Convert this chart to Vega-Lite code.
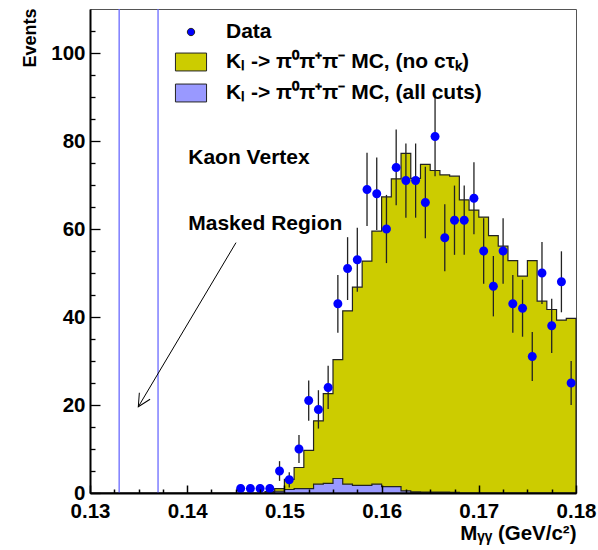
{
  "$schema": "https://vega.github.io/schema/vega-lite/v6.json",
  "width": 486,
  "height": 484,
  "autosize": "none",
  "padding": {"left": 90, "top": 9, "right": 22, "bottom": 57},
  "background": "white",
  "config": {
    "font": "Liberation Sans",
    "view": {"stroke": "#555", "strokeWidth": 1},
    "axis": {
      "labelFont": "Liberation Sans", "labelFontWeight": "bold", "labelFontSize": 20.5, "labelColor": "black",
      "titleFont": "Liberation Sans", "titleFontWeight": "bold", "titleColor": "black",
      "domainColor": "black", "tickColor": "black", "grid": false
    }
  },
  "datasets": {
    "hist": [
      {"lo": 0.130, "yel": 0, "pur": 0}, {"lo": 0.131, "yel": 0, "pur": 0}, {"lo": 0.132, "yel": 0, "pur": 0},
      {"lo": 0.133, "yel": 0, "pur": 0}, {"lo": 0.134, "yel": 0, "pur": 0}, {"lo": 0.135, "yel": 0, "pur": 0},
      {"lo": 0.136, "yel": 0, "pur": 0}, {"lo": 0.137, "yel": 0, "pur": 0}, {"lo": 0.138, "yel": 0, "pur": 0},
      {"lo": 0.139, "yel": 0, "pur": 0}, {"lo": 0.140, "yel": 0, "pur": 0}, {"lo": 0.141, "yel": 0, "pur": 0},
      {"lo": 0.142, "yel": 0, "pur": 0}, {"lo": 0.143, "yel": 0, "pur": 0}, {"lo": 0.144, "yel": 0, "pur": 0},
      {"lo": 0.145, "yel": 0, "pur": 0}, {"lo": 0.146, "yel": 0, "pur": 0}, {"lo": 0.147, "yel": 0, "pur": 0},
      {"lo": 0.148, "yel": 0.3, "pur": 0}, {"lo": 0.149, "yel": 1.0, "pur": 0.4}, {"lo": 0.150, "yel": 3.1, "pur": 0.8},
      {"lo": 0.151, "yel": 5.8, "pur": 1.0}, {"lo": 0.152, "yel": 9.7, "pur": 1.0}, {"lo": 0.153, "yel": 16.4, "pur": 2.0},
      {"lo": 0.154, "yel": 22.6, "pur": 2.2}, {"lo": 0.155, "yel": 30.3, "pur": 3.3}, {"lo": 0.156, "yel": 41.4, "pur": 2.0},
      {"lo": 0.157, "yel": 46.8, "pur": 1.75}, {"lo": 0.158, "yel": 52.7, "pur": 1.75}, {"lo": 0.159, "yel": 59.5, "pur": 2.0},
      {"lo": 0.160, "yel": 67.3, "pur": 1.45}, {"lo": 0.161, "yel": 71.4, "pur": 1.45}, {"lo": 0.162, "yel": 77.2, "pur": 0.5},
      {"lo": 0.163, "yel": 71.5, "pur": 0.25}, {"lo": 0.164, "yel": 74.7, "pur": 0.2}, {"lo": 0.165, "yel": 73.3, "pur": 0.2},
      {"lo": 0.166, "yel": 72.3, "pur": 0.2}, {"lo": 0.167, "yel": 72.0, "pur": 0.15}, {"lo": 0.168, "yel": 66.6, "pur": 0},
      {"lo": 0.169, "yel": 64.3, "pur": 0}, {"lo": 0.170, "yel": 62.7, "pur": 0}, {"lo": 0.171, "yel": 58.5, "pur": 0},
      {"lo": 0.172, "yel": 56.1, "pur": 0}, {"lo": 0.173, "yel": 52.8, "pur": 0}, {"lo": 0.174, "yel": 49.3, "pur": 0},
      {"lo": 0.175, "yel": 52.8, "pur": 0}, {"lo": 0.176, "yel": 43.6, "pur": 0}, {"lo": 0.177, "yel": 41.7, "pur": 0},
      {"lo": 0.178, "yel": 39.3, "pur": 0}, {"lo": 0.179, "yel": 39.7, "pur": 0}, {"lo": 0.180, "yel": 39.7, "pur": 0}
    ],
    "pts": [
      {"x": 0.1455, "n": 1, "lo": 0, "hi": 2}, {"x": 0.1465, "n": 1, "lo": 0, "hi": 2},
      {"x": 0.1475, "n": 1, "lo": 0, "hi": 2}, {"x": 0.1485, "n": 1, "lo": 0, "hi": 2},
      {"x": 0.1495, "n": 5, "lo": 2.76, "hi": 7.24}, {"x": 0.1505, "n": 3, "lo": 1.27, "hi": 4.73},
      {"x": 0.1515, "n": 10, "lo": 6.84, "hi": 13.16}, {"x": 0.1525, "n": 21, "lo": 16.42, "hi": 25.58},
      {"x": 0.1535, "n": 19, "lo": 14.64, "hi": 23.36}, {"x": 0.1545, "n": 24, "lo": 19.1, "hi": 28.9},
      {"x": 0.1555, "n": 43, "lo": 36.44, "hi": 49.56}, {"x": 0.1565, "n": 51, "lo": 43.86, "hi": 58.14},
      {"x": 0.1575, "n": 53, "lo": 45.72, "hi": 60.28}, {"x": 0.1585, "n": 69, "lo": 60.69, "hi": 77.31},
      {"x": 0.1595, "n": 68, "lo": 59.75, "hi": 76.25}, {"x": 0.1605, "n": 60, "lo": 52.25, "hi": 67.75},
      {"x": 0.1615, "n": 74, "lo": 65.4, "hi": 82.6}, {"x": 0.1625, "n": 71, "lo": 62.57, "hi": 79.43},
      {"x": 0.1635, "n": 71, "lo": 62.57, "hi": 79.43}, {"x": 0.1645, "n": 66, "lo": 57.88, "hi": 74.12},
      {"x": 0.1655, "n": 81, "lo": 72, "hi": 90}, {"x": 0.1665, "n": 58, "lo": 50.38, "hi": 65.62},
      {"x": 0.1675, "n": 62, "lo": 54.13, "hi": 69.87}, {"x": 0.1685, "n": 62, "lo": 54.13, "hi": 69.87},
      {"x": 0.1695, "n": 67, "lo": 58.81, "hi": 75.19}, {"x": 0.1705, "n": 55, "lo": 47.58, "hi": 62.42},
      {"x": 0.1715, "n": 47, "lo": 40.14, "hi": 53.86}, {"x": 0.1725, "n": 55, "lo": 47.58, "hi": 62.42},
      {"x": 0.1735, "n": 43, "lo": 36.44, "hi": 49.56}, {"x": 0.1745, "n": 42, "lo": 35.52, "hi": 48.48},
      {"x": 0.1755, "n": 31, "lo": 25.43, "hi": 36.57}, {"x": 0.1765, "n": 50, "lo": 42.93, "hi": 57.07},
      {"x": 0.1775, "n": 38, "lo": 31.84, "hi": 44.16}, {"x": 0.1785, "n": 48, "lo": 41.07, "hi": 54.93},
      {"x": 0.1795, "n": 25, "lo": 20, "hi": 30}
    ],
    "vlines": [{"x": 0.133}, {"x": 0.137}],
    "notes": [
      {"x": 0.14011, "y": 74.8, "label": "Kaon Vertex"},
      {"x": 0.14011, "y": 59.8, "label": "Masked Region"}
    ],
    "arrow": [{"x": 0.14502, "y": 56.9, "x2": 0.13497, "y2": 19.6}]
  },
  "layer": [
    {
      "data": {"name": "hist"},
      "mark": {"type": "area", "interpolate": "step-after", "stroke": "#222", "strokeWidth": 1.2, "opacity": 1},
      "encoding": {
        "x": {"field": "lo", "type": "quantitative",
              "scale": {"domain": [0.13, 0.18], "nice": false, "zero": false},
              "axis": {"orient": "bottom", "values": [0.13, 0.14, 0.15, 0.16, 0.17, 0.18], "format": ".2f",
                       "ticks": false, "labelPadding": 8.5, "domainWidth": 2, "zindex": 1,
                       "labelFlush": false, "labelOverlap": false,
                       "title": "Mᵧᵧ (GeV/c²)", "titleFontSize": 20.5, "titleAnchor": "end", "titleAlign": "right",
                       "titleX": 486, "titleY": 46, "titleBaseline": "alphabetic"}},
        "y": {"field": "yel", "type": "quantitative",
              "scale": {"domain": [0, 110], "nice": false},
              "axis": {"orient": "left", "values": [0, 20, 40, 60, 80, 100], "format": "d",
                       "ticks": false, "labelPadding": 5, "domainWidth": 2, "zindex": 1,
                       "labelFlush": false, "labelOverlap": false,
                       "title": "Events", "titleFontSize": 18, "titleAngle": 270, "titleAlign": "right",
                       "titleX": -60, "titleY": -1, "titleBaseline": "middle"}},
        "color": {"datum": "Kₗ -> π⁰π⁺π⁻ MC, (no cτₖ)", "type": "nominal",
                  "scale": {"domain": ["Data", "Kₗ -> π⁰π⁺π⁻ MC, (no cτₖ)", "Kₗ -> π⁰π⁺π⁻ MC, (all cuts)"],
                            "range": ["#0000ff", "#cccc00", "#9999ff"]},
                  "legend": {"title": null, "orient": "none", "legendX": 88, "legendY": 10, "padding": 0,
                             "symbolSize": 600, "labelFontSize": 21, "labelFont": "Liberation Sans", "labelFontWeight": "bold",
                             "labelColor": "black", "labelLimit": 500, "labelOffset": 22, "rowPadding": 7,
                             "symbolStrokeWidth": 1,
                             "encode": {"symbols": {"update": {"x": {"signal": "datum.value === 'Data' ? 29.5 : 12.75"}, "stroke": {"signal": "datum.value === 'Data' ? '#0000ff' : '#222222'"}, "strokeWidth": {"value": 1}, "opacity": {"value": 1}}}}}}
      }
    },
    {
      "data": {"name": "hist"},
      "mark": {"type": "area", "interpolate": "step-after", "stroke": "#222", "strokeWidth": 1.2, "opacity": 1},
      "encoding": {
        "x": {"field": "lo", "type": "quantitative",
              "axis": {"orient": "bottom", "values": [0.13, 0.14, 0.15, 0.16, 0.17, 0.18], "zindex": 2,
                       "labels": false, "domain": false, "ticks": true, "tickSize": 8, "offset": -8, "tickWidth": 1.5, "title": null}},
        "y": {"field": "pur", "type": "quantitative",
              "axis": {"orient": "left", "values": [0, 20, 40, 60, 80, 100], "zindex": 2,
                       "labels": false, "domain": false, "ticks": true, "tickSize": 10, "offset": -10, "tickWidth": 1.3, "title": null}},
        "color": {"datum": "Kₗ -> π⁰π⁺π⁻ MC, (all cuts)", "type": "nominal"}
      }
    },
    {
      "data": {"name": "vlines"},
      "mark": {"type": "rule", "color": "#6a6aff", "strokeWidth": 1.3},
      "encoding": {"x": {"field": "x", "type": "quantitative", "axis": null}}
    },
    {
      "data": {"name": "pts"},
      "mark": {"type": "rule", "color": "#222", "strokeWidth": 1.3},
      "encoding": {
        "x": {"field": "x", "type": "quantitative",
              "axis": {"orient": "bottom", "values": [0.1325, 0.135, 0.1375, 0.1425, 0.145, 0.1475, 0.1525, 0.155, 0.1575, 0.1625, 0.165, 0.1675, 0.1725, 0.175, 0.1775], "zindex": 2,
                       "labels": false, "domain": false, "ticks": true, "tickSize": 4, "offset": -4, "tickWidth": 1.5, "title": null}},
        "y": {"field": "lo", "type": "quantitative",
              "axis": {"orient": "left", "values": [5, 10, 15, 25, 30, 35, 45, 50, 55, 65, 70, 75, 85, 90, 95, 105], "zindex": 2,
                       "labels": false, "domain": false, "ticks": true, "tickSize": 5, "offset": -5, "tickWidth": 1.3, "title": null}},
        "y2": {"field": "hi"}
      }
    },
    {
      "data": {"name": "pts"},
      "mark": {"type": "point", "filled": true, "size": 900, "opacity": 1},
      "encoding": {
        "x": {"field": "x", "type": "quantitative", "axis": null},
        "y": {"field": "n", "type": "quantitative", "axis": null},
        "color": {"datum": "Data", "type": "nominal"},
        "shape": {"datum": "Data", "type": "nominal",
                  "scale": {"domain": ["Data", "Kₗ -> π⁰π⁺π⁻ MC, (no cτₖ)", "Kₗ -> π⁰π⁺π⁻ MC, (all cuts)"],
                            "range": ["M0.3,0A0.3,0.3,0,1,1,-0.3,0A0.3,0.3,0,1,1,0.3,0Z", "M-1.27,-0.73L1.27,-0.73L1.27,0.73L-1.27,0.73Z", "M-1.27,-0.73L1.27,-0.73L1.27,0.73L-1.27,0.73Z"]},
                  "legend": {"title": null, "orient": "none", "legendX": 88, "legendY": 10, "padding": 0,
                             "symbolSize": 600, "labelFontSize": 21, "labelFont": "Liberation Sans", "labelFontWeight": "bold",
                             "labelColor": "black", "labelLimit": 500, "labelOffset": 22, "rowPadding": 7,
                             "symbolStrokeWidth": 1,
                             "encode": {"symbols": {"update": {"x": {"signal": "datum.value === 'Data' ? 29.5 : 12.75"}, "stroke": {"signal": "datum.value === 'Data' ? '#0000ff' : '#222222'"}, "strokeWidth": {"value": 1}, "opacity": {"value": 1}}}}}}
      }
    },
    {
      "data": {"name": "notes"},
      "mark": {"type": "text", "align": "left", "baseline": "alphabetic", "font": "Liberation Sans", "fontWeight": "bold", "fontSize": 21, "color": "black"},
      "encoding": {
        "x": {"field": "x", "type": "quantitative", "axis": null},
        "y": {"field": "y", "type": "quantitative", "axis": null},
        "text": {"field": "label"}
      }
    },
    {
      "data": {"name": "arrow"},
      "mark": {"type": "rule", "color": "black", "strokeWidth": 1},
      "encoding": {
        "x": {"field": "x", "type": "quantitative", "axis": null},
        "y": {"field": "y", "type": "quantitative", "axis": null},
        "x2": {"field": "x2"},
        "y2": {"field": "y2"}
      }
    },
    {
      "data": {"name": "arrow"},
      "mark": {"type": "point", "shape": "M-1,-0.5L0,0L-1,0.5", "filled": false, "size": 625, "angle": 120.8, "stroke": "black", "strokeWidth": 1, "opacity": 1},
      "encoding": {
        "x": {"field": "x2", "type": "quantitative", "axis": null},
        "y": {"field": "y2", "type": "quantitative", "axis": null}
      }
    }
  ],
  "resolve": {"axis": {"x": "independent", "y": "independent"}}
}
